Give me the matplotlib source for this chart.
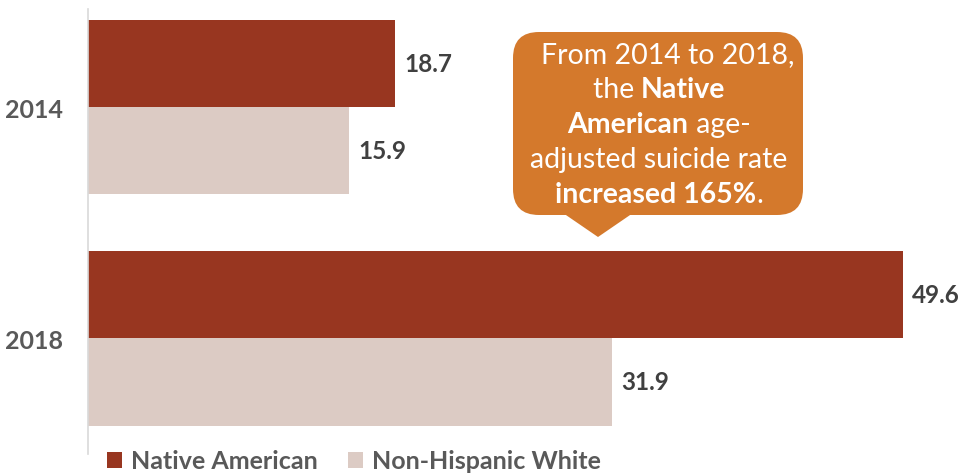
import matplotlib
matplotlib.use("Agg")
import matplotlib.pyplot as plt
from matplotlib.patches import FancyBboxPatch, Polygon, Patch
from matplotlib.transforms import Affine2D

years = ["2014", "2018"]
native_american = [18.7, 49.6]
non_hispanic_white = [15.9, 31.9]
series_names = ["Native American", "Non-Hispanic White"]

callout_lines = [
    [("From 2014 to 2018,", False)],
    [("the ", False), ("Native", True)],
    [("American", True), (" age-", False)],
    [("adjusted suicide rate", False)],
    [("increased 165%", True), (".", False)],
]

RED = "#983620"
PINK = "#DCCBC4"
ORANGE = "#D4792C"
GRAY = "#595959"
DARK = "#404040"

plt.rcParams["font.family"] = ["Lato", "DejaVu Sans"]

W, H = 960, 477
fig = plt.figure(figsize=(W / 100, H / 100), dpi=100)
ax = fig.add_axes([88 / W, 1 - 455 / H, (W - 88) / W, (455 - 10) / H])

h = 0.377
ypos = list(range(len(years)))
ax.barh([y - h / 2 for y in ypos], native_american, height=h, color=RED)
ax.barh([y + h / 2 for y in ypos], non_hispanic_white, height=h, color=PINK)

for y, v in zip(ypos, native_american):
    ax.annotate(f"{v}", (v, y - h / 2), xytext=(6.5, 0), textcoords="offset points",
                va="center", ha="left", fontsize=17.5, fontweight="bold", color=DARK)
for y, v in zip(ypos, non_hispanic_white):
    ax.annotate(f"{v}", (v, y + h / 2), xytext=(6.5, 0), textcoords="offset points",
                va="center", ha="left", fontsize=17.5, fontweight="bold", color=DARK)

ax.set_xlim(0, (W - 88) / (815 / 49.6))
ax.set_ylim(1.5, -0.424)
ax.set_yticks(ypos)
ax.set_yticklabels(years, fontsize=18, fontweight="bold", color=GRAY)
ax.set_xticks([])
ax.tick_params(axis="y", length=0, pad=18)
for side in ["top", "right", "bottom"]:
    ax.spines[side].set_visible(False)
ax.spines["left"].set_color("#D9D9D9")
ax.spines["left"].set_linewidth(1.2)

# legend
handles = [Patch(facecolor=RED), Patch(facecolor=PINK)]
fig.legend(handles, series_names, loc="center left", bbox_to_anchor=(107 / W, 1 - 462 / H),
           ncol=2, frameon=False, prop={"weight": "bold", "size": 18},
           handlelength=0.6, handleheight=0.6, handletextpad=0.36, columnspacing=1.2,
           borderpad=0, borderaxespad=0, labelcolor=GRAY)

# callout, in pixel coordinates from the top-left corner
px = Affine2D().scale(1 / W, -1 / H).translate(0, 1) + fig.transFigure
box = FancyBboxPatch((513, 33), 290, 183, boxstyle="round,pad=0,rounding_size=26",
                     transform=px, facecolor=ORANGE, edgecolor="none")
fig.patches.append(box)
tri = Polygon([(563, 214), (633, 214), (598, 238)], closed=True, transform=px,
              facecolor=ORANGE, edgecolor="none")
fig.patches.append(tri)

fig.canvas.draw()
renderer = fig.canvas.get_renderer()
cx = 659
for i, segs in enumerate(callout_lines):
    base = 63 + 34.9 * i
    texts = []
    for s, bold in segs:
        t = fig.text(0, 0, s, transform=px, fontsize=20.5, color="white",
                     fontweight="bold" if bold else "normal", va="baseline", ha="left")
        texts.append(t)
    widths = [t.get_window_extent(renderer).width for t in texts]
    x = cx - sum(widths) / 2 + (9 if i == 0 else 0)
    for t, w in zip(texts, widths):
        t.set_position((x, base))
        x += w

fig.savefig("out.png", dpi=100)
